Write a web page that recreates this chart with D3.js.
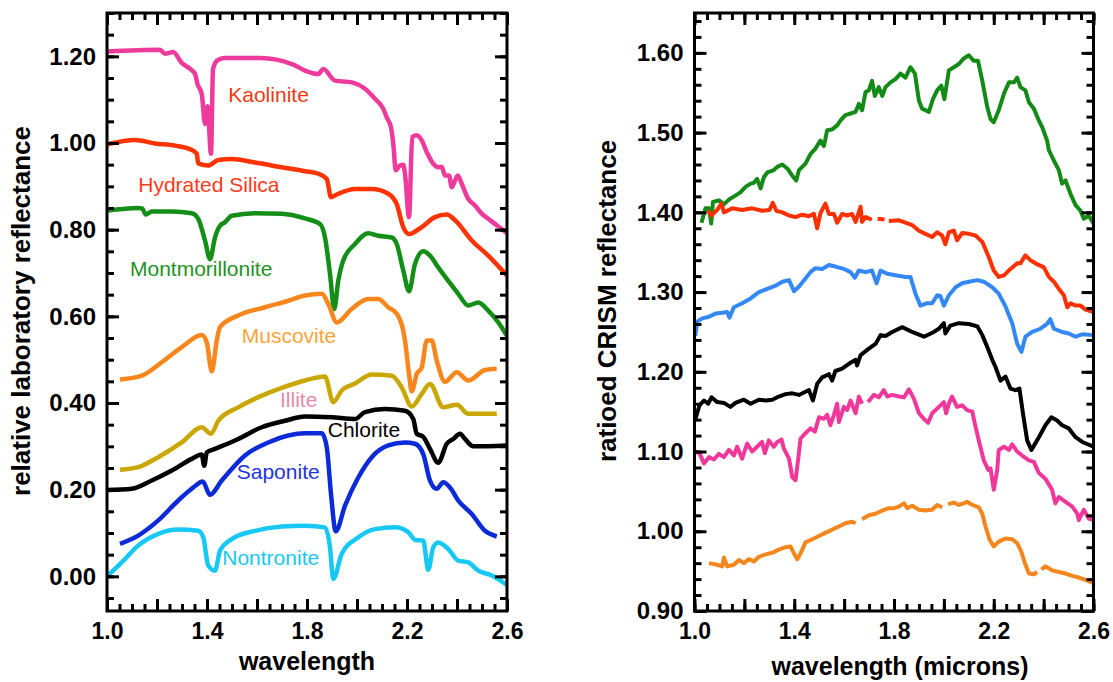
<!DOCTYPE html>
<html>
<head>
<meta charset="utf-8">
<script src="https://cdn.jsdelivr.net/npm/d3@7"></script>
<style>
  body { margin: 0; background: #fff; }
  text { font-family: "Liberation Sans", Arial, Helvetica, sans-serif; }
</style>
</head>
<body>
<svg id="chart" width="1113" height="682"></svg>
<script>
// ---- left panel: laboratory spectra [wavelength, reflectance] ----
var kaolinite = [[1.0,1.211],[1.212,1.215],[1.232,1.206],[1.265,1.21],[1.297,1.186],[1.335,1.17],[1.352,1.16],[1.362,1.136],[1.379,1.113],[1.392,1.044],[1.402,1.085],[1.416,0.975],[1.424,1.17],[1.44,1.19],[1.47,1.196],[1.612,1.196],[1.745,1.181],[1.792,1.167],[1.845,1.159],[1.865,1.171],[1.912,1.144],[1.979,1.14],[2.032,1.125],[2.072,1.102],[2.105,1.079],[2.119,1.059],[2.136,1.036],[2.145,0.998],[2.155,0.937],[2.172,0.948],[2.185,0.95],[2.192,0.929],[2.208,0.829],[2.221,1.014],[2.239,1.018],[2.259,1.006],[2.279,0.979],[2.305,0.952],[2.325,0.944],[2.339,0.945],[2.352,0.925],[2.368,0.925],[2.379,0.898],[2.403,0.925],[2.419,0.906],[2.445,0.871],[2.472,0.856],[2.499,0.837],[2.532,0.822],[2.559,0.81],[2.6,0.792]];
var hydratedSilica = [[1.0,0.997],[1.112,1.007],[1.192,0.999],[1.272,0.994],[1.339,0.984],[1.359,0.975],[1.365,0.953],[1.405,0.948],[1.445,0.961],[1.499,0.963],[1.592,0.955],[1.699,0.944],[1.792,0.935],[1.845,0.929],[1.879,0.917],[1.896,0.875],[1.925,0.883],[1.992,0.894],[2.059,0.894],[2.125,0.883],[2.159,0.859],[2.185,0.806],[2.208,0.79],[2.259,0.806],[2.312,0.829],[2.359,0.835],[2.392,0.822],[2.459,0.775],[2.525,0.74],[2.6,0.694]];
var montmorillonite = [[1.0,0.844],[1.125,0.85],[1.141,0.849],[1.155,0.835],[1.179,0.842],[1.259,0.842],[1.339,0.838],[1.365,0.825],[1.392,0.775],[1.412,0.732],[1.432,0.782],[1.452,0.809],[1.472,0.817],[1.499,0.832],[1.592,0.838],[1.699,0.837],[1.792,0.826],[1.852,0.813],[1.872,0.782],[1.892,0.698],[1.909,0.617],[1.925,0.682],[1.945,0.729],[1.992,0.767],[2.045,0.792],[2.085,0.786],[2.139,0.782],[2.159,0.767],[2.185,0.706],[2.208,0.658],[2.232,0.721],[2.265,0.75],[2.292,0.74],[2.325,0.713],[2.365,0.682],[2.405,0.652],[2.445,0.625],[2.485,0.632],[2.525,0.613],[2.565,0.586],[2.6,0.555]];
var muscovite = [[1.052,0.454],[1.139,0.463],[1.219,0.494],[1.299,0.529],[1.379,0.557],[1.399,0.54],[1.419,0.473],[1.439,0.544],[1.452,0.575],[1.525,0.602],[1.632,0.621],[1.725,0.636],[1.792,0.648],[1.859,0.652],[1.885,0.629],[1.919,0.586],[1.979,0.617],[2.045,0.64],[2.085,0.64],[2.125,0.621],[2.159,0.606],[2.185,0.567],[2.192,0.544],[2.208,0.467],[2.219,0.427],[2.239,0.467],[2.259,0.482],[2.279,0.544],[2.299,0.544],[2.319,0.498],[2.352,0.449],[2.399,0.471],[2.445,0.452],[2.512,0.476],[2.559,0.479]];
var illite = [[1.052,0.246],[1.125,0.252],[1.205,0.275],[1.299,0.309],[1.379,0.344],[1.416,0.329],[1.445,0.359],[1.525,0.39],[1.619,0.417],[1.699,0.435],[1.792,0.452],[1.872,0.461],[1.905,0.402],[1.939,0.429],[1.992,0.445],[2.059,0.466],[2.139,0.463],[2.179,0.436],[2.219,0.392],[2.259,0.421],[2.292,0.444],[2.345,0.39],[2.399,0.396],[2.445,0.375],[2.559,0.375]];
var chlorite = [[1.0,0.199],[1.099,0.202],[1.179,0.221],[1.259,0.244],[1.339,0.271],[1.379,0.281],[1.389,0.255],[1.399,0.286],[1.432,0.294],[1.525,0.317],[1.619,0.344],[1.712,0.359],[1.792,0.369],[1.899,0.367],[1.992,0.363],[2.032,0.379],[2.112,0.386],[2.192,0.382],[2.225,0.363],[2.239,0.329],[2.265,0.322],[2.292,0.294],[2.325,0.262],[2.359,0.306],[2.385,0.317],[2.412,0.329],[2.432,0.317],[2.465,0.3],[2.6,0.302]];
var saponite = [[1.052,0.075],[1.125,0.094],[1.205,0.129],[1.285,0.175],[1.345,0.205],[1.383,0.219],[1.412,0.188],[1.459,0.221],[1.552,0.279],[1.645,0.309],[1.725,0.325],[1.792,0.33],[1.859,0.33],[1.879,0.298],[1.896,0.19],[1.915,0.104],[1.952,0.163],[2.005,0.228],[2.059,0.275],[2.125,0.302],[2.192,0.309],[2.232,0.306],[2.265,0.282],[2.292,0.221],[2.319,0.202],[2.345,0.217],[2.372,0.205],[2.405,0.175],[2.459,0.144],[2.512,0.105],[2.559,0.092]];
var nontronite = [[1.0,0.0],[1.059,0.032],[1.125,0.071],[1.205,0.098],[1.285,0.108],[1.365,0.105],[1.385,0.09],[1.405,0.025],[1.432,0.013],[1.452,0.059],[1.499,0.086],[1.592,0.105],[1.699,0.115],[1.792,0.117],[1.872,0.113],[1.892,0.067],[1.905,-0.006],[1.939,0.052],[2.005,0.09],[2.072,0.109],[2.152,0.113],[2.205,0.102],[2.232,0.084],[2.265,0.082],[2.285,0.015],[2.305,0.067],[2.325,0.078],[2.365,0.063],[2.405,0.036],[2.445,0.032],[2.485,0.013],[2.539,0.002],[2.6,-0.02]];

var labMinerals = ["Kaolinite", "Hydrated Silica", "Montmorillonite", "Muscovite", "Illite", "Chlorite", "Saponite", "Nontronite"];
var labSpectra = [kaolinite, hydratedSilica, montmorillonite, muscovite, illite, chlorite, saponite, nontronite];
var labLineColors = ["#EE3A9B", "#FF3300", "#138F17", "#F7861C", "#C9A700", "#000000", "#0B2BD9", "#18C8F4"];
var labTextColors = ["#EE3A14", "#FF3A1A", "#1E931E", "#F8A43A", "#E38BA8", "#000000", "#2233DD", "#18C8F4"];
// label anchors in data units (wavelength, reflectance)
var labLabelX = [1.485, 1.125, 1.092, 1.539, 1.692, 1.883, 1.519, 1.461];
var labLabelY = [1.095, 0.888, 0.693, 0.538, 0.391, 0.322, 0.224, 0.026];

// ---- right panel: ratioed CRISM spectra (null = gap) ----
var crismGreen = [[1.028,1.387],[1.044,1.405],[1.058,1.405],[1.067,1.386],[1.074,1.413],[1.098,1.415],[1.118,1.41],[1.138,1.416],[1.164,1.421],[1.184,1.425],[1.205,1.432],[1.225,1.436],[1.238,1.437],[1.251,1.442],[1.265,1.43],[1.278,1.444],[1.292,1.45],[1.318,1.453],[1.332,1.457],[1.352,1.46],[1.372,1.455],[1.392,1.446],[1.408,1.44],[1.419,1.453],[1.445,1.461],[1.465,1.473],[1.485,1.48],[1.505,1.49],[1.519,1.483],[1.532,1.503],[1.552,1.504],[1.572,1.509],[1.585,1.515],[1.605,1.522],[1.626,1.524],[1.646,1.526],[1.659,1.536],[1.672,1.528],[1.686,1.551],[1.699,1.553],[1.712,1.565],[1.723,1.546],[1.739,1.557],[1.753,1.546],[1.766,1.557],[1.786,1.563],[1.806,1.567],[1.826,1.574],[1.846,1.569],[1.866,1.582],[1.884,1.574],[1.9,1.54],[1.913,1.53],[1.94,1.526],[1.956,1.542],[1.973,1.553],[1.99,1.559],[2.002,1.542],[2.02,1.578],[2.04,1.582],[2.06,1.586],[2.08,1.593],[2.1,1.597],[2.12,1.59],[2.137,1.59],[2.154,1.565],[2.174,1.532],[2.187,1.517],[2.2,1.513],[2.22,1.528],[2.241,1.549],[2.261,1.563],[2.281,1.563],[2.294,1.569],[2.307,1.557],[2.327,1.553],[2.341,1.538],[2.361,1.53],[2.381,1.515],[2.394,1.507],[2.414,1.49],[2.421,1.478],[2.441,1.465],[2.461,1.453],[2.474,1.436],[2.488,1.44],[2.508,1.423],[2.528,1.409],[2.548,1.402],[2.561,1.392],[2.581,1.396],[2.6,1.386]];
var crismRed = [[1.055,1.402],[1.068,1.396],[1.091,1.403],[1.108,1.411],[1.118,1.4],[1.151,1.405],[1.191,1.403],[1.231,1.405],[1.271,1.402],[1.301,1.403],[1.314,1.412],[1.328,1.402],[1.352,1.4],[1.379,1.396],[1.405,1.394],[1.432,1.397],[1.459,1.395],[1.479,1.398],[1.492,1.38],[1.505,1.399],[1.525,1.411],[1.539,1.398],[1.559,1.398],[1.572,1.387],[1.592,1.398],[1.612,1.396],[1.632,1.398],[1.646,1.388],[1.666,1.407],[1.672,1.388],[1.686,1.394],[1.711,1.391],[1.72,null],[1.734,1.392],[1.762,1.391],[1.77,null],[1.779,1.389],[1.82,1.39],[1.846,1.387],[1.873,1.384],[1.9,1.377],[1.926,1.373],[1.953,1.369],[1.973,1.375],[1.993,1.371],[2.006,1.36],[2.02,1.375],[2.04,1.377],[2.053,1.365],[2.073,1.374],[2.1,1.373],[2.127,1.371],[2.154,1.363],[2.18,1.344],[2.2,1.327],[2.22,1.319],[2.241,1.321],[2.267,1.329],[2.294,1.336],[2.307,1.336],[2.327,1.346],[2.347,1.34],[2.374,1.335],[2.401,1.331],[2.421,1.319],[2.441,1.313],[2.461,1.304],[2.481,1.296],[2.495,1.281],[2.508,1.286],[2.528,1.283],[2.548,1.283],[2.568,1.278],[2.6,1.275]];
var crismBlue = [[1.003,1.245],[1.011,1.263],[1.031,1.267],[1.058,1.269],[1.084,1.273],[1.111,1.274],[1.131,1.275],[1.14,1.268],[1.158,1.281],[1.191,1.286],[1.225,1.292],[1.258,1.3],[1.292,1.304],[1.325,1.308],[1.352,1.313],[1.379,1.315],[1.399,1.301],[1.419,1.307],[1.445,1.317],[1.465,1.325],[1.485,1.33],[1.512,1.329],[1.539,1.334],[1.565,1.332],[1.599,1.329],[1.626,1.325],[1.643,1.318],[1.659,1.327],[1.686,1.325],[1.712,1.327],[1.73,1.311],[1.746,1.327],[1.773,1.323],[1.806,1.321],[1.846,1.319],[1.866,1.319],[1.886,1.298],[1.906,1.283],[1.933,1.286],[1.953,1.286],[1.973,1.296],[1.986,1.295],[2.0,1.283],[2.02,1.296],[2.047,1.306],[2.073,1.311],[2.1,1.313],[2.134,1.315],[2.16,1.313],[2.194,1.306],[2.22,1.298],[2.247,1.282],[2.274,1.261],[2.294,1.235],[2.311,1.225],[2.327,1.244],[2.354,1.25],[2.387,1.254],[2.414,1.26],[2.427,1.266],[2.441,1.254],[2.474,1.25],[2.501,1.248],[2.528,1.244],[2.555,1.247],[2.6,1.246]];
var crismBlack = [[1.003,1.14],[1.02,1.158],[1.038,1.164],[1.055,1.16],[1.068,1.168],[1.091,1.162],[1.118,1.161],[1.144,1.156],[1.164,1.161],[1.198,1.165],[1.225,1.16],[1.258,1.165],[1.285,1.164],[1.312,1.165],[1.338,1.169],[1.365,1.172],[1.392,1.173],[1.419,1.171],[1.445,1.175],[1.459,1.177],[1.475,1.164],[1.492,1.185],[1.512,1.193],[1.539,1.197],[1.552,1.189],[1.565,1.201],[1.592,1.204],[1.619,1.21],[1.646,1.215],[1.652,1.208],[1.666,1.221],[1.699,1.229],[1.726,1.235],[1.746,1.246],[1.766,1.245],[1.793,1.25],[1.833,1.256],[1.873,1.25],[1.92,1.244],[1.96,1.25],[1.98,1.254],[2.0,1.261],[2.006,1.248],[2.026,1.258],[2.06,1.261],[2.1,1.26],[2.134,1.257],[2.154,1.246],[2.174,1.231],[2.194,1.215],[2.207,1.206],[2.227,1.189],[2.247,1.194],[2.267,1.179],[2.287,1.177],[2.303,1.179],[2.317,1.148],[2.334,1.114],[2.351,1.102],[2.381,1.118],[2.407,1.133],[2.431,1.143],[2.454,1.139],[2.474,1.133],[2.501,1.129],[2.528,1.118],[2.555,1.112],[2.6,1.106]];
var crismPink = [[1.003,1.1],[1.02,1.098],[1.038,1.085],[1.058,1.093],[1.078,1.09],[1.098,1.097],[1.118,1.093],[1.138,1.102],[1.158,1.095],[1.171,1.106],[1.191,1.091],[1.211,1.11],[1.231,1.1],[1.251,1.106],[1.271,1.112],[1.282,1.098],[1.298,1.114],[1.318,1.106],[1.332,1.112],[1.349,1.115],[1.358,1.104],[1.379,1.091],[1.392,1.068],[1.405,1.064],[1.416,1.091],[1.425,1.116],[1.445,1.123],[1.465,1.129],[1.483,1.125],[1.499,1.143],[1.519,1.141],[1.532,1.146],[1.545,1.133],[1.559,1.146],[1.572,1.16],[1.579,1.137],[1.599,1.156],[1.612,1.152],[1.626,1.164],[1.646,1.148],[1.659,1.169],[1.672,1.16],[1.68,null],[1.696,1.162],[1.719,1.171],[1.739,1.168],[1.759,1.177],[1.773,1.169],[1.793,1.171],[1.82,1.169],[1.84,1.168],[1.86,1.178],[1.88,1.166],[1.9,1.148],[1.92,1.141],[1.937,1.136],[1.953,1.148],[1.98,1.156],[2.0,1.162],[2.009,1.148],[2.02,1.16],[2.033,1.169],[2.053,1.156],[2.073,1.158],[2.093,1.152],[2.114,1.15],[2.127,1.131],[2.143,1.11],[2.16,1.089],[2.178,1.077],[2.187,1.079],[2.2,1.052],[2.214,1.077],[2.22,1.102],[2.241,1.106],[2.261,1.102],[2.274,1.109],[2.294,1.1],[2.314,1.095],[2.341,1.089],[2.361,1.087],[2.381,1.073],[2.407,1.066],[2.434,1.052],[2.447,1.035],[2.461,1.043],[2.488,1.037],[2.515,1.031],[2.535,1.022],[2.541,1.014],[2.561,1.027],[2.581,1.016],[2.6,1.014]];
var crismOrange = [[1.058,0.96],[1.091,0.958],[1.111,0.956],[1.118,0.967],[1.131,0.956],[1.158,0.958],[1.178,0.964],[1.198,0.96],[1.218,0.965],[1.238,0.962],[1.258,0.968],[1.285,0.971],[1.312,0.973],[1.338,0.977],[1.365,0.98],[1.385,0.981],[1.399,0.972],[1.412,0.965],[1.425,0.972],[1.445,0.986],[1.472,0.99],[1.499,0.994],[1.525,0.998],[1.552,1.002],[1.579,1.006],[1.605,1.01],[1.632,1.012],[1.646,1.01],[1.66,null],[1.672,1.015],[1.699,1.02],[1.726,1.022],[1.753,1.026],[1.779,1.029],[1.8,1.029],[1.82,1.031],[1.84,1.035],[1.853,1.029],[1.873,1.032],[1.9,1.027],[1.926,1.026],[1.953,1.027],[1.973,1.033],[1.993,1.03],[2.005,null],[2.017,1.034],[2.04,1.036],[2.06,1.033],[2.08,1.035],[2.093,1.037],[2.114,1.033],[2.14,1.03],[2.154,1.022],[2.167,1.006],[2.184,0.989],[2.2,0.981],[2.22,0.987],[2.247,0.991],[2.274,0.99],[2.294,0.985],[2.311,0.974],[2.325,0.96],[2.341,0.947],[2.361,0.946],[2.374,0.949],[2.382,null],[2.391,0.952],[2.407,0.956],[2.434,0.951],[2.461,0.949],[2.488,0.947],[2.515,0.944],[2.541,0.942],[2.568,0.939],[2.6,0.935]];

var crismSpectra = [crismGreen, crismRed, crismBlue, crismBlack, crismPink, crismOrange];
var crismColors = ["#148A17", "#FF3000", "#3388F5", "#000000", "#F0389B", "#F5861C"];

// ---- ticks ----
var xLabelTicks = [1.0, 1.4, 1.8, 2.2, 2.6];
var xMajorTicks = [1.0, 1.2, 1.4, 1.6, 1.8, 2.0, 2.2, 2.4, 2.6];
var labYTicks = [0.0, 0.2, 0.4, 0.6, 0.8, 1.0, 1.2];
var crismYTicks = [0.9, 1.0, 1.1, 1.2, 1.3, 1.4, 1.5, 1.6];

var top_ = 13, bottom_ = 611;
var svg = d3.select("#chart");

function drawPanel(id, left, right, yDomain, yTicks, yMinorStep, spectra, colors, curve, width) {
    var x = d3.scaleLinear().domain([1.0, 2.6]).range([left, right]);
    var y = d3.scaleLinear().domain(yDomain).range([bottom_, top_]);
    var g = svg.append("g");

    g.append("clipPath").attr("id", "clip" + id)
        .append("rect").attr("x", left).attr("y", top_)
        .attr("width", right - left).attr("height", bottom_ - top_);

    var line = d3.line()
        .defined(function(d) { return d[1] !== null; })
        .curve(curve)
        .x(function(d) { return x(d[0]); })
        .y(function(d) { return y(d[1]); });

    g.append("g").attr("clip-path", "url(#clip" + id + ")")
        .selectAll("path").data(spectra).enter().append("path")
        .attr("d", line)
        .attr("fill", "none")
        .attr("stroke", function(d, i) { return colors[i]; })
        .attr("stroke-width", width)
        .attr("stroke-linejoin", "round");

    var xMinor = d3.range(1.0, 2.6001, 0.05);
    var yMinor = d3.range(Math.ceil(yDomain[0] / yMinorStep - 1e-6) * yMinorStep, yDomain[1] + 1e-6, yMinorStep);

    // inward ticks on all four sides
    function ticks(axis, tr) {
        var a = g.append("g").attr("transform", tr).call(axis);
        a.select(".domain").remove();
        a.selectAll("line").attr("stroke", "#000").attr("stroke-width", 3);
        return a;
    }
    ticks(d3.axisBottom(x).tickValues(xMinor).tickSize(-7).tickFormat(""), "translate(0," + bottom_ + ")");
    ticks(d3.axisBottom(x).tickValues(xMajorTicks).tickSize(-12).tickFormat(""), "translate(0," + bottom_ + ")");
    ticks(d3.axisTop(x).tickValues(xMinor).tickSize(-7).tickFormat(""), "translate(0," + top_ + ")");
    ticks(d3.axisTop(x).tickValues(xMajorTicks).tickSize(-12).tickFormat(""), "translate(0," + top_ + ")");
    ticks(d3.axisLeft(y).tickValues(yMinor).tickSize(-7).tickFormat(""), "translate(" + left + ",0)");
    ticks(d3.axisLeft(y).tickValues(yTicks).tickSize(-12).tickFormat(""), "translate(" + left + ",0)");
    ticks(d3.axisRight(y).tickValues(yMinor).tickSize(-7).tickFormat(""), "translate(" + right + ",0)");
    ticks(d3.axisRight(y).tickValues(yTicks).tickSize(-12).tickFormat(""), "translate(" + right + ",0)");

    // tick labels
    var xl = g.append("g").attr("transform", "translate(0," + bottom_ + ")")
        .call(d3.axisBottom(x).tickValues(xLabelTicks).tickSize(0).tickPadding(12).tickFormat(d3.format(".1f")));
    xl.select(".domain").remove();
    xl.selectAll("text").attr("font-size", 23).attr("font-weight", "bold").attr("fill", "#000")
        .attr("font-family", "'Liberation Sans', Arial, sans-serif");

    var yl = g.append("g").attr("transform", "translate(" + left + ",0)")
        .call(d3.axisLeft(y).tickValues(yTicks).tickSize(0).tickPadding(11).tickFormat(d3.format(".2f")));
    yl.select(".domain").remove();
    yl.selectAll("text").attr("font-size", 24).attr("font-weight", "bold").attr("fill", "#000")
        .attr("font-family", "'Liberation Sans', Arial, sans-serif");

    // frame
    g.append("rect").attr("x", left).attr("y", top_)
        .attr("width", right - left).attr("height", bottom_ - top_)
        .attr("fill", "none").attr("stroke", "#000").attr("stroke-width", 3);

    return { x: x, y: y, g: g };
}

var lab = drawPanel("L", 107, 507, [-0.08, 1.30], labYTicks, 0.05, labSpectra, labLineColors, d3.curveMonotoneX, 4.5);
var crism = drawPanel("R", 694.5, 1093.5, [0.90, 1.65], crismYTicks, 0.02, crismSpectra, crismColors, d3.curveLinear, 4);

// mineral names on the left panel
lab.g.selectAll(".mineral").data(labMinerals).enter().append("text")
    .attr("class", "mineral")
    .attr("x", function(d, i) { return lab.x(labLabelX[i]); })
    .attr("y", function(d, i) { return lab.y(labLabelY[i]); })
    .attr("font-size", 21)
    .attr("fill", function(d, i) { return labTextColors[i]; })
    .text(function(d) { return d; });

// axis titles
svg.append("text").attr("transform", "translate(30,311) rotate(-90)")
    .attr("text-anchor", "middle").attr("font-size", 26).attr("font-weight", "bold")
    .text("relative laboratory reflectance");
svg.append("text").attr("x", 307).attr("y", 670)
    .attr("text-anchor", "middle").attr("font-size", 25).attr("font-weight", "bold")
    .text("wavelength");
svg.append("text").attr("transform", "translate(616,301) rotate(-90)")
    .attr("text-anchor", "middle").attr("font-size", 26).attr("font-weight", "bold")
    .text("ratioed CRISM reflectance");
svg.append("text").attr("x", 900).attr("y", 675)
    .attr("text-anchor", "middle").attr("font-size", 25).attr("font-weight", "bold")
    .text("wavelength (microns)");
</script>
</body>
</html>
